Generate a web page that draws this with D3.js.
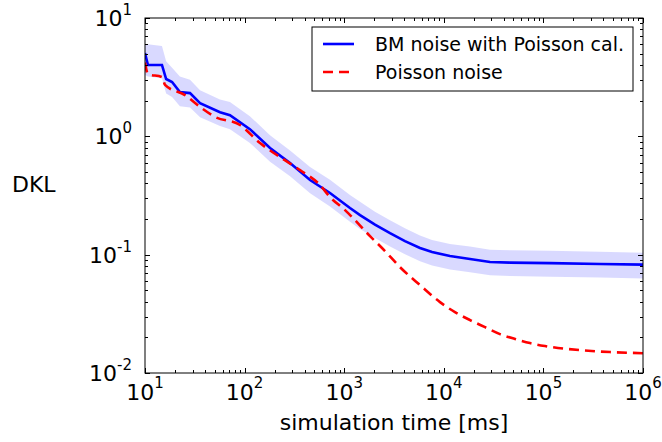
<!DOCTYPE html>
<meta charset="utf-8">
<script src="https://d3js.org/d3.v7.min.js"></script>
<style>
body { margin: 0; background: #fff; }
text { font-family: "DejaVu Sans", sans-serif; fill: #000; }
.axis path { display: none; }
.axis line { stroke: #000; stroke-width: 1; shape-rendering: crispEdges; }
</style>
<body>
<script>

// BM noise with Poisson calibration: mean and shaded band
var timeBM = [10, 10.7, 14.8, 16.3, 18.7, 22.4, 28.3, 35.7, 56.6, 71.3, 113, 180, 286, 454, 720,
              1143, 1442, 2037, 2884, 4074, 5768, 7621, 11530, 18320, 29110, 46240, 116500, 370000, 1e6];
var dklBM  = [5.06, 4.01, 4.01, 3.05, 2.88, 2.37, 2.32, 1.91, 1.60, 1.51, 1.15, 0.796, 0.594, 0.427, 0.332,
              0.248, 0.216, 0.1794, 0.152, 0.1303, 0.114, 0.1052, 0.0973, 0.0918, 0.0866, 0.0857, 0.0849, 0.0833, 0.0824];
var dklHi  = [6.0, 6.0, 5.8, 4.3, 3.8, 3.2, 3.0, 2.45, 2.05, 1.95, 1.48, 1.02, 0.76, 0.55, 0.43,
              0.32, 0.28, 0.23, 0.195, 0.167, 0.145, 0.133, 0.123, 0.117, 0.110, 0.109, 0.108, 0.106, 0.104];
var dklLo  = [3.3, 3.2, 3.1, 2.3, 2.15, 1.8, 1.75, 1.45, 1.22, 1.15, 0.88, 0.61, 0.46, 0.33, 0.255,
              0.19, 0.165, 0.138, 0.117, 0.101, 0.088, 0.081, 0.075, 0.071, 0.067, 0.066, 0.065, 0.064, 0.063];

// Poisson noise
var timeP = [10, 10.7, 14.8, 15.9, 25.2, 35.7, 50.4, 89.9, 142.9, 226.6, 359.7, 571, 720, 1019,
             1816, 2570, 3631, 5768, 9162, 12940, 18320, 25940, 36640, 51880, 73280, 103700,
             232800, 466900, 1e6];
var dklP  = [4.2, 3.36, 3.17, 2.72, 2.23, 1.77, 1.46, 1.246, 0.877, 0.668, 0.519, 0.388, 0.307, 0.238,
             0.1436, 0.1072, 0.0785, 0.0553, 0.0397, 0.0327, 0.0280, 0.0244, 0.0213, 0.0194, 0.0179, 0.0169,
             0.0156, 0.01503, 0.0147];

var xMajor = [10, 100, 1000, 10000, 100000, 1000000];
var xExp = ["1", "2", "3", "4", "5", "6"];
var yMajor = [10, 1, 0.1, 0.01];
var yExp = ["1", "0", "-1", "-2"];

var margin = {top: 18, right: 19, bottom: 69, left: 145},
    width = 662 - margin.left - margin.right,
    height = 442 - margin.top - margin.bottom;

var x = d3.scaleLog().domain([10, 1e6]).range([0, width]);
var y = d3.scaleLog().domain([0.01, 10]).range([height, 0]);

function minors(lo, hi) {
  var out = [];
  for (var p = lo; p < hi; p *= 10)
    for (var k = 2; k <= 9; k++) out.push(p * k);
  return out;
}
var xMinor = minors(10, 1e6);
var yMinor = minors(0.01, 10);

var svg = d3.select("body").append("svg")
    .attr("width", 662)
    .attr("height", 442)
  .append("g")
    .attr("transform", "translate(" + margin.left + "," + margin.top + ")");

svg.append("clipPath").attr("id", "clip")
  .append("rect").attr("width", width).attr("height", height);

var plot = svg.append("g").attr("clip-path", "url(#clip)");

var bandData = timeBM.map(function(t, i) { return {t: t, lo: dklLo[i], hi: dklHi[i]}; });
var bmData = timeBM.map(function(t, i) { return {t: t, v: dklBM[i]}; });
var pData = timeP.map(function(t, i) { return {t: t, v: dklP[i]}; });

plot.append("path")
    .datum(bandData)
    .attr("fill", "#0000ff")
    .attr("fill-opacity", 0.15)
    .attr("d", d3.area()
      .x(function(d) { return x(d.t); })
      .y0(function(d) { return y(d.lo); })
      .y1(function(d) { return y(d.hi); }));

var line = d3.line()
    .x(function(d) { return x(d.t); })
    .y(function(d) { return y(d.v); });

plot.append("path")
    .datum(bmData)
    .attr("fill", "none")
    .attr("stroke", "#0000ff")
    .attr("stroke-width", 2.6)
    .attr("d", line);

plot.append("path")
    .datum(pData)
    .attr("fill", "none")
    .attr("stroke", "#ff0000")
    .attr("stroke-width", 2.6)
    .attr("stroke-dasharray", "10,6")
    .attr("d", line.curve(d3.curveMonotoneX));

// ticks on all four sides, pointing inward
function ticks(axisFn, scale, vals, len, tr) {
  svg.append("g").attr("class", "axis").attr("transform", tr)
    .call(axisFn(scale).tickValues(vals).tickSize(-len).tickFormat(""));
}
ticks(d3.axisBottom, x, xMajor, 5, "translate(0," + height + ")");
ticks(d3.axisBottom, x, xMinor, 3, "translate(0," + height + ")");
ticks(d3.axisTop, x, xMajor, 5, "translate(0,0)");
ticks(d3.axisTop, x, xMinor, 3, "translate(0,0)");
ticks(d3.axisLeft, y, yMajor, 5, "translate(0,0)");
ticks(d3.axisLeft, y, yMinor, 3, "translate(0,0)");
ticks(d3.axisRight, y, yMajor, 5, "translate(" + width + ",0)");
ticks(d3.axisRight, y, yMinor, 3, "translate(" + width + ",0)");

svg.append("rect")
    .attr("width", width)
    .attr("height", height)
    .attr("fill", "none")
    .attr("stroke", "#000")
    .attr("stroke-width", 1);

// tick labels with superscript exponents
xMajor.forEach(function(v, i) {
  var t = svg.append("text")
      .attr("x", x(v))
      .attr("y", height + 27)
      .attr("text-anchor", "middle")
      .style("font-size", "22px");
  t.append("tspan").text("10");
  t.append("tspan").attr("dy", -12).style("font-size", "15px").text(xExp[i]);
});

yMajor.forEach(function(v, i) {
  var t = svg.append("text")
      .attr("x", -13)
      .attr("y", y(v) + 8)
      .attr("text-anchor", "end")
      .style("font-size", "22px");
  t.append("tspan").text("10");
  t.append("tspan").attr("dy", -11).style("font-size", "15px").text(yExp[i]);
});

svg.append("text")
    .attr("x", width / 2)
    .attr("y", 412)
    .attr("text-anchor", "middle")
    .style("font-size", "22px")
    .text("simulation time [ms]");

svg.append("text")
    .attr("x", 12 - margin.left)
    .attr("y", 174)
    .style("font-size", "22px")
    .text("DKL");

// legend
var legend = svg.append("g").attr("transform", "translate(" + (312 - margin.left) + "," + (27 - margin.top) + ")");
legend.append("rect")
    .attr("width", 321)
    .attr("height", 64)
    .attr("fill", "#fff")
    .attr("stroke", "#000")
    .attr("stroke-width", 1);
var entries = [
  {label: "BM noise with Poisson cal.", color: "#0000ff", dash: null},
  {label: "Poisson noise", color: "#ff0000", dash: "10,6"}
];
entries.forEach(function(e, i) {
  var cy = 17 + i * 28;
  legend.append("line")
      .attr("x1", 11).attr("x2", 42)
      .attr("y1", cy).attr("y2", cy)
      .attr("stroke", e.color)
      .attr("stroke-width", 2.6)
      .attr("stroke-dasharray", e.dash);
  legend.append("text")
      .attr("x", 63)
      .attr("y", cy + 7)
      .style("font-size", "19px")
      .text(e.label);
});

</script>
</body>
</html>
